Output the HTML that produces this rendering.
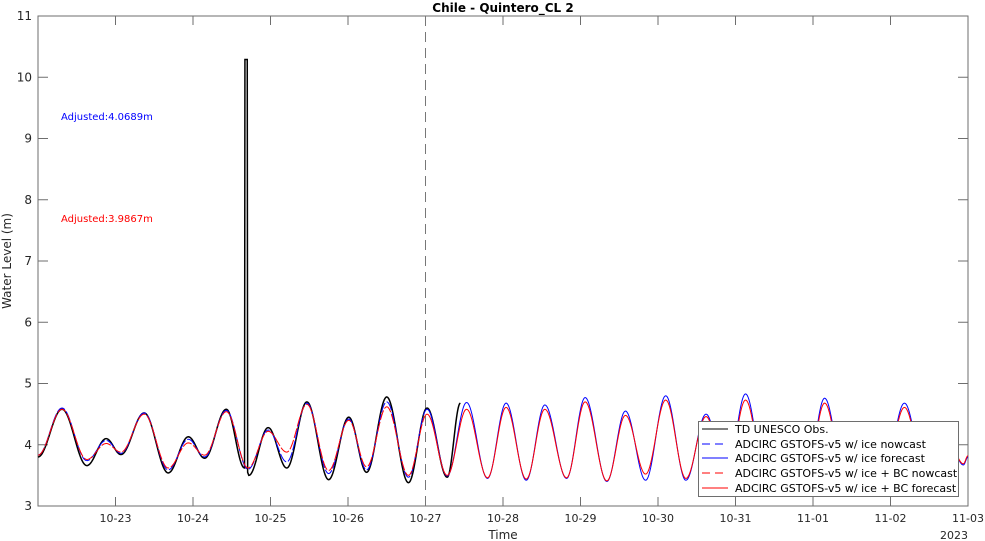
<!DOCTYPE html>
<html><head><meta charset="utf-8">
<style>
html,body{margin:0;padding:0;background:#fff;}
svg{display:block;font-family:"DejaVu Sans","Liberation Sans",sans-serif;}
</style></head>
<body>
<svg id="chart" width="985" height="541" viewBox="0 0 985 541">
  <rect x="0" y="0" width="985" height="541" fill="#fff"/>
  <rect x="38" y="16" width="930" height="490" fill="#fff" stroke="#6e6e6e" stroke-width="1"/>
  <g id="ticks"></g>
  <g id="series"></g>
  <text x="503" y="12" text-anchor="middle" font-size="12" font-weight="bold" fill="#000">Chile - Quintero_CL 2</text>
  <text x="503" y="539" text-anchor="middle" font-size="12" fill="#262626">Time</text>
  <text x="940" y="539" text-anchor="start" font-size="11" fill="#262626">2023</text>
  <text transform="translate(11,261) rotate(-90)" text-anchor="middle" font-size="12" fill="#262626">Water Level (m)</text>
  <text x="61" y="120" font-size="10" fill="#0000ff">Adjusted:4.0689m</text>
  <text x="61" y="222" font-size="10" fill="#ff0000">Adjusted:3.9867m</text>
  <g>
    <rect x="698.5" y="421.5" width="260" height="75" fill="#fff" stroke="#6e6e6e" stroke-width="1"/>
    <g><line x1="702" y1="429" x2="728" y2="429" stroke="#000" stroke-width="1"/><text x="735" y="433" font-size="11" fill="#000">TD UNESCO Obs.</text></g>
    <g><line x1="702" y1="444" x2="728" y2="444" stroke="#0000ff" stroke-width="1" stroke-dasharray="8,5"/><text x="735" y="448" font-size="11" fill="#000">ADCIRC GSTOFS-v5 w/ ice nowcast</text></g>
    <g><line x1="702" y1="458" x2="728" y2="458" stroke="#0000ff" stroke-width="1"/><text x="735" y="462" font-size="11" fill="#000">ADCIRC GSTOFS-v5 w/ ice forecast</text></g>
    <g><line x1="702" y1="473" x2="728" y2="473" stroke="#ff0000" stroke-width="1" stroke-dasharray="8,5"/><text x="735" y="477" font-size="11" fill="#000">ADCIRC GSTOFS-v5 w/ ice + BC nowcast</text></g>
    <g><line x1="702" y1="488" x2="728" y2="488" stroke="#ff0000" stroke-width="1"/><text x="735" y="492" font-size="11" fill="#000">ADCIRC GSTOFS-v5 w/ ice + BC forecast</text></g>
  </g>
</svg>
<script>
// x: days since 10-22 00:00
const xTickLabels = ["10-23","10-24","10-25","10-26","10-27","10-28","10-29","10-30","10-31","11-01","11-02","11-03"];
const xTickDays = [1,2,3,4,5,6,7,8,9,10,11,12];
const yTicks = [3,4,5,6,7,8,9,10,11];
const nowcastEnd = 5;
const modelTimes = [0,0.31,0.63,0.88,1.07,1.37,1.68,1.94,2.15,2.43,2.71,2.97,3.21,3.47,3.75,4.01,4.24,4.50,4.78,5.02,5.28,5.53,5.80,6.04,6.30,6.54,6.82,7.06,7.34,7.58,7.84,8.10,8.36,8.62,8.88,9.13,9.39,9.64,9.91,10.15,10.41,10.67,10.92,11.18,11.44,11.70,11.94,12.0];
const iceValues = [3.83,4.60,3.74,4.07,3.86,4.52,3.59,4.09,3.80,4.56,3.60,4.24,3.72,4.68,3.53,4.42,3.59,4.70,3.47,4.58,3.49,4.69,3.45,4.68,3.42,4.65,3.45,4.77,3.40,4.55,3.42,4.80,3.42,4.50,3.45,4.83,3.45,4.3,3.42,4.76,3.5,4.3,3.55,4.68,3.6,4.3,3.67,3.80];
const bcValues = [3.83,4.58,3.76,4.02,3.88,4.50,3.62,4.03,3.83,4.54,3.62,4.22,3.88,4.66,3.58,4.40,3.64,4.62,3.50,4.50,3.50,4.58,3.46,4.61,3.44,4.58,3.46,4.70,3.41,4.48,3.52,4.73,3.45,4.46,3.45,4.73,3.45,4.25,3.42,4.68,3.5,4.25,3.55,4.61,3.6,4.25,3.69,3.82];
const obsTimes = [0,0.31,0.63,0.88,1.07,1.37,1.68,1.94,2.15,2.43,2.665,2.67,2.70,2.705,2.72,2.97,3.21,3.47,3.75,4.01,4.24,4.50,4.78,5.02,5.28,5.45];
const obsValues = [3.80,4.58,3.66,4.10,3.84,4.52,3.54,4.13,3.78,4.58,3.62,10.29,10.29,3.55,3.50,4.28,3.62,4.70,3.43,4.45,3.55,4.78,3.38,4.60,3.47,4.68];

const X0=38, X1=968, Y0=506, Y1=16;
function xScale(d){return X0+(d-0)/(12-0)*(X1-X0);}
function yScale(v){return Y0-(v-3)/(11-3)*(Y0-Y1);}
const NS="http://www.w3.org/2000/svg";
function mk(tag,attrs,parent){const e=document.createElementNS(NS,tag);for(const k in attrs)e.setAttribute(k,attrs[k]);parent.appendChild(e);return e;}

const tg=document.getElementById('ticks');
xTickDays.forEach((d,i)=>{
  const x=xScale(d);
  const t1=mk('line',{x1:x,y1:Y0,x2:x,y2:Y0-9,stroke:'#6e6e6e'},tg);
  
  
  mk('line',{x1:x,y1:Y1,x2:x,y2:Y1+9,stroke:'#6e6e6e'},tg);
  const lb=mk('text',{x:x,y:Y0+16,'text-anchor':'middle','font-size':11,fill:'#262626'},tg);
  lb.textContent=xTickLabels[i];
  
  
});
yTicks.forEach(v=>{
  const y=yScale(v);
  const t=mk('line',{x1:X0,y1:y,x2:X0+10,y2:y,stroke:'#6e6e6e'},tg);
  
  
  mk('line',{x1:X1,y1:y,x2:X1-10,y2:y,stroke:'#6e6e6e'},tg);
  const lb=mk('text',{x:X0-6,y:y+4,'text-anchor':'end','font-size':12,fill:'#262626'},tg);
  lb.textContent=v;
  
  
});
const vl=mk('line',{x1:xScale(nowcastEnd),y1:Y1,x2:xScale(nowcastEnd),y2:Y0,stroke:'#777','stroke-dasharray':'10,6'},tg);



function pathFor(ts,vs,from,to){
  let pts=[];
  for(let i=0;i<ts.length-1;i++){
    const a=ts[i],b=ts[i+1];
    if(b<from||a>to)continue;
    if(b-a<0.02){pts.push([a,vs[i]],[b,vs[i+1]]);continue;}
    const n=24;
    for(let k=0;k<=n;k++){
      const t=a+(b-a)*k/n;
      if(t<from||t>to)continue;
      const f=(1-Math.cos(Math.PI*k/n))/2;
      pts.push([t,vs[i]+(vs[i+1]-vs[i])*f]);
    }
  }
  return pts.map((p,i)=>(i?'L':'M')+xScale(p[0]).toFixed(2)+','+yScale(p[1]).toFixed(2)).join('');
}
const sg=document.getElementById('series');
const obs=mk('path',{d:pathFor(obsTimes,obsValues,0,12),fill:'none',stroke:'#000','stroke-width':1.5,'stroke-linejoin':'miter'},sg);


const bn=mk('path',{d:pathFor(modelTimes,iceValues,0,nowcastEnd),fill:'none',stroke:'#0000ff','stroke-width':1,'stroke-dasharray':'10,2'},sg);


const bf=mk('path',{d:pathFor(modelTimes,iceValues,nowcastEnd,12),fill:'none',stroke:'#0000ff','stroke-width':1},sg);


const rn=mk('path',{d:pathFor(modelTimes,bcValues,0,nowcastEnd),fill:'none',stroke:'#ff0000','stroke-width':1,'stroke-dasharray':'10,2'},sg);


const rf=mk('path',{d:pathFor(modelTimes,bcValues,nowcastEnd,12),fill:'none',stroke:'#ff0000','stroke-width':1},sg);


</script>
</body></html>
